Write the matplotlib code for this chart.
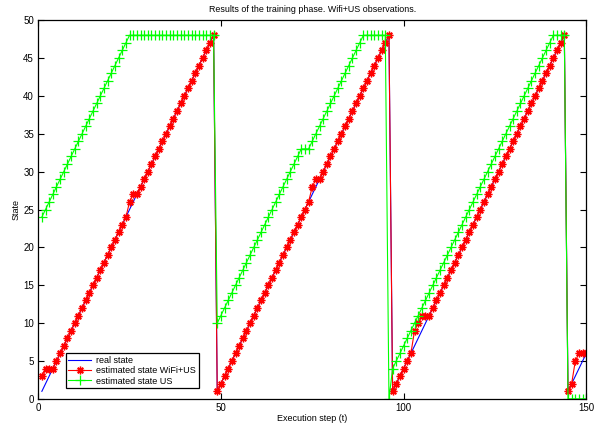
import matplotlib
matplotlib.use("Agg")
import matplotlib.pyplot as plt

plt.rcParams['font.family'] = ['Liberation Sans', 'DejaVu Sans']

# execution steps 1..150
steps = [
    1, 2, 3, 4, 5, 6, 7, 8, 9, 10, 11, 12, 13, 14, 15, 16, 17, 18, 19, 20, 21, 22, 23, 24, 25,
    26, 27, 28, 29, 30, 31, 32, 33, 34, 35, 36, 37, 38, 39, 40, 41, 42, 43, 44, 45, 46, 47, 48, 49, 50,
    51, 52, 53, 54, 55, 56, 57, 58, 59, 60, 61, 62, 63, 64, 65, 66, 67, 68, 69, 70, 71, 72, 73, 74, 75,
    76, 77, 78, 79, 80, 81, 82, 83, 84, 85, 86, 87, 88, 89, 90, 91, 92, 93, 94, 95, 96, 97, 98, 99, 100,
    101, 102, 103, 104, 105, 106, 107, 108, 109, 110, 111, 112, 113, 114, 115, 116, 117, 118, 119, 120, 121, 122, 123, 124, 125,
    126, 127, 128, 129, 130, 131, 132, 133, 134, 135, 136, 137, 138, 139, 140, 141, 142, 143, 144, 145, 146, 147, 148, 149, 150,
]

real_state = [
    1, 2, 3, 4, 5, 6, 7, 8, 9, 10, 11, 12, 13, 14, 15, 16, 17, 18, 19, 20, 21, 22, 23, 24, 25,
    26, 27, 28, 29, 30, 31, 32, 33, 34, 35, 36, 37, 38, 39, 40, 41, 42, 43, 44, 45, 46, 47, 48, 1, 2,
    3, 4, 5, 6, 7, 8, 9, 10, 11, 12, 13, 14, 15, 16, 17, 18, 19, 20, 21, 22, 23, 24, 25, 26, 27,
    28, 29, 30, 31, 32, 33, 34, 35, 36, 37, 38, 39, 40, 41, 42, 43, 44, 45, 46, 47, 48, 1, 2, 3, 4,
    5, 6, 7, 8, 9, 10, 11, 12, 13, 14, 15, 16, 17, 18, 19, 20, 21, 22, 23, 24, 25, 26, 27, 28, 29,
    30, 31, 32, 33, 34, 35, 36, 37, 38, 39, 40, 41, 42, 43, 44, 45, 46, 47, 48, 1, 2, 3, 4, 5, 6,
]

est_wifi_us = [
    3, 4, 4, 4, 5, 6, 7, 8, 9, 10, 11, 12, 13, 14, 15, 16, 17, 18, 19, 20, 21, 22, 23, 24, 26,
    27, 27, 28, 29, 30, 31, 32, 33, 34, 35, 36, 37, 38, 39, 40, 41, 42, 43, 44, 45, 46, 47, 48, 1, 2,
    3, 4, 5, 6, 7, 8, 9, 10, 11, 12, 13, 14, 15, 16, 17, 18, 19, 20, 21, 22, 23, 24, 25, 26, 28,
    29, 29, 30, 31, 32, 33, 34, 35, 36, 37, 38, 39, 40, 41, 42, 43, 44, 45, 46, 47, 48, 1, 2, 3, 4,
    5, 6, 9, 10, 11, 11, 11, 12, 13, 14, 15, 16, 17, 18, 19, 20, 21, 22, 23, 24, 25, 26, 27, 28, 29,
    30, 31, 32, 33, 34, 35, 36, 37, 38, 39, 40, 41, 42, 43, 44, 45, 46, 47, 48, 1, 2, 5, 6, 6, 6,
]

est_us = [
    24, 25, 26, 27, 28, 29, 30, 31, 32, 33, 34, 35, 36, 37, 38, 39, 40, 41, 42, 43, 44, 45, 46, 47, 48,
    48, 48, 48, 48, 48, 48, 48, 48, 48, 48, 48, 48, 48, 48, 48, 48, 48, 48, 48, 48, 48, 48, 48, 10, 11,
    12, 13, 14, 15, 16, 17, 18, 19, 20, 21, 22, 23, 24, 25, 26, 27, 28, 29, 30, 31, 32, 33, 33, 33, 34,
    35, 36, 37, 38, 39, 40, 41, 42, 43, 44, 45, 46, 47, 48, 48, 48, 48, 48, 48, 48, 0, 4, 5, 6, 7,
    8, 9, 10, 11, 12, 13, 14, 15, 16, 17, 18, 19, 20, 21, 22, 23, 24, 25, 26, 27, 28, 29, 30, 31, 32,
    33, 34, 35, 36, 37, 38, 39, 40, 41, 42, 43, 44, 45, 46, 47, 48, 48, 48, 48, 0, 0, 0, 0, 0, 0,
]

fig = plt.figure(figsize=(5.97, 4.28), dpi=100)
ax = fig.add_axes([0.064, 0.068, 0.918, 0.885])

ax.plot(steps, real_state, color=(0, 0, 1), lw=0.8, label="real state")
ax.plot(steps, est_wifi_us, color=(1, 0, 0), lw=0.8, marker=(8, 2, 0), ms=5.5,
        mew=1.0, label="estimated state WiFi+US")
ax.plot(steps, est_us, color=(0, 1, 0), lw=0.8, marker="+", ms=6.5,
        mew=0.9, label="estimated state US")

ax.set_xlim(0, 150)
ax.set_ylim(0, 50)
ax.set_xticks([0, 50, 100, 150])
ax.set_yticks(range(0, 51, 5))
ax.tick_params(direction="in", top=True, right=True, length=4, width=0.8,
               labelsize=7, pad=3)
for s in ax.spines.values():
    s.set_linewidth(0.9)

ax.set_title("Results of the training phase. Wifi+US observations.", fontsize=6.4, pad=6)
ax.set_xlabel("Execution step (t)", fontsize=6.5, labelpad=1)
ax.set_ylabel("State", fontsize=6.5, labelpad=2)

leg = ax.legend(loc="lower left", bbox_to_anchor=(0.05, 0.028), fontsize=6.5,
                fancybox=False, framealpha=1, edgecolor="black",
                borderpad=0.3, labelspacing=0.15, handlelength=2.5,
                handletextpad=0.6, borderaxespad=0)
leg.get_frame().set_linewidth(0.9)

fig.savefig("out.png", dpi=100)
